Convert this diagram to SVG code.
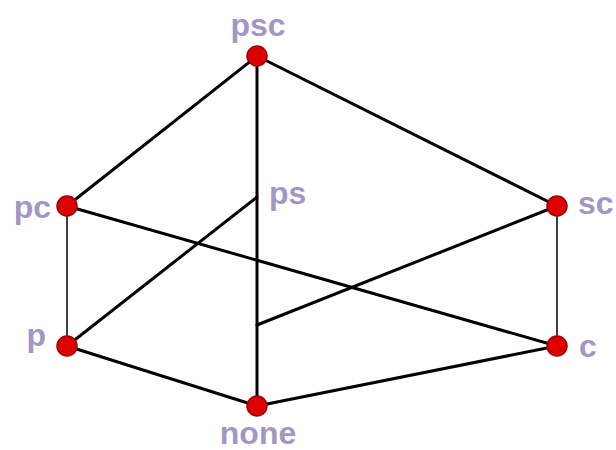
<svg xmlns="http://www.w3.org/2000/svg" width="616" height="450" viewBox="0 0 616 450">
<style>
.e{stroke:#000;stroke-width:3;fill:none;stroke-linecap:round}
.t{stroke:#000;stroke-width:1.5;fill:none}
.d{fill:#dd0000;stroke:#9a0000;stroke-width:1.5}
.l{font-family:"Liberation Sans",Arial,sans-serif;font-weight:bold;font-size:32px;fill:#a396c4}
</style>
<rect width="616" height="450" fill="#fff"/>
<g id="connectors">
<line class="e" x1="257" y1="56" x2="67" y2="206"/>
<line class="e" x1="257" y1="56" x2="557" y2="206"/>
<line class="e" x1="257" y1="56" x2="257" y2="406"/>
<line class="t" x1="67" y1="206" x2="67" y2="346"/>
<line class="t" x1="557" y1="206" x2="557" y2="346"/>
<line class="e" x1="67" y1="206" x2="557" y2="346"/>
<line class="e" x1="67" y1="346" x2="257" y2="197"/>
<line class="e" x1="557" y1="206" x2="257" y2="325"/>
<line class="e" x1="67" y1="346" x2="257" y2="406"/>
<line class="e" x1="257" y1="406" x2="557" y2="346"/>
</g>
<g id="psc"><circle class="d" cx="257" cy="56" r="10"/><text class="l" x="258" y="36" text-anchor="middle">psc</text></g>
<g id="pc"><circle class="d" cx="67" cy="206" r="10"/><text class="l" x="51" y="218" text-anchor="end">pc</text></g>
<g id="ps"><text class="l" x="269" y="204">ps</text></g>
<g id="sc"><circle class="d" cx="557" cy="206" r="10"/><text class="l" x="578" y="214">sc</text></g>
<g id="p"><circle class="d" cx="67" cy="346" r="10"/><text class="l" x="46" y="346" text-anchor="end">p</text></g>
<g id="c"><circle class="d" cx="557" cy="346" r="10"/><text class="l" x="579" y="357">c</text></g>
<g id="none"><circle class="d" cx="257" cy="406" r="10"/><text class="l" x="258" y="444" text-anchor="middle">none</text></g>
</svg>
